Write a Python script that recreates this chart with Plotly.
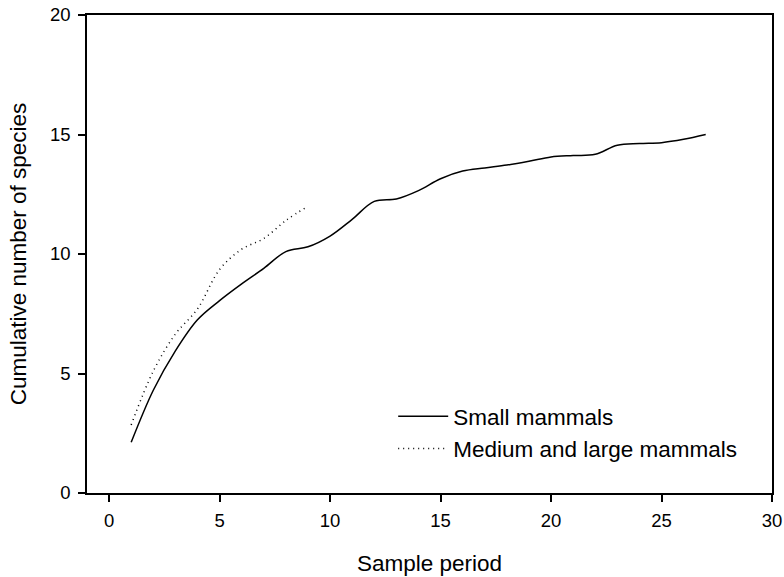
import plotly.graph_objects as go

# Data
small_x = [1, 2, 3, 4, 5, 6, 7, 8, 9, 10, 11, 12, 13, 14, 15, 16, 17, 18, 19, 20, 21, 22, 23, 24, 25, 26, 27]
small_y = [2.12, 4.3, 5.95, 7.25, 8.05, 8.75, 9.4, 10.1, 10.3, 10.75, 11.45, 12.2, 12.3, 12.65, 13.15, 13.47, 13.6, 13.72, 13.88, 14.06, 14.12, 14.17, 14.55, 14.62, 14.66, 14.8, 15.0]

large_x = [1, 2, 3, 4, 5, 6, 7, 8, 9]
large_y = [2.85, 5.1, 6.65, 7.7, 9.35, 10.2, 10.65, 11.4, 12.0]

x_ticks = [0, 5, 10, 15, 20, 25, 30]
y_ticks = [0, 5, 10, 15, 20]

FONT = "Liberation Sans, Arial, sans-serif"

fig = go.Figure()
fig.add_trace(go.Scatter(
    x=small_x, y=small_y, mode="lines", name="Small mammals",
    line=dict(color="black", width=1.5, shape="spline", smoothing=1.0),
))
fig.add_trace(go.Scatter(
    x=large_x, y=large_y, mode="lines", name="Medium and large mammals",
    line=dict(color="black", width=1.5, dash="1px,4px", shape="spline", smoothing=1.0),
))

fig.update_layout(
    width=784, height=577,
    margin=dict(l=87, r=12, t=15, b=84),
    paper_bgcolor="white", plot_bgcolor="white",
    font=dict(family=FONT, size=18, color="black"),
    legend=dict(
        x=0.447, y=0.205, xanchor="left", yanchor="top",
        font=dict(size=22.5, family=FONT), bgcolor="rgba(0,0,0,0)",
        tracegroupgap=0, itemwidth=50,
    ),
    xaxis=dict(
        range=[-1, 30], tickvals=x_ticks, ticks="outside", ticklen=7,
        tickwidth=1.5, tickcolor="black", ticklabelstandoff=3,
        showline=True, linecolor="black", linewidth=1.5, mirror=True,
        showgrid=False, zeroline=False, automargin=False,
        title=dict(text="Sample period", font=dict(size=22.5), standoff=25),
        tickfont=dict(size=18.5),
    ),
    yaxis=dict(
        range=[0, 20], tickvals=y_ticks, ticks="outside", ticklen=7,
        tickwidth=1.5, tickcolor="black", ticklabelstandoff=4,
        showline=True, linecolor="black", linewidth=1.5, mirror=True,
        showgrid=False, zeroline=False, automargin=False,
        title=dict(text="Cumulative number of species", font=dict(size=22.5), standoff=17),
        tickfont=dict(size=18.5),
    ),
)

fig.write_html("out.html")
